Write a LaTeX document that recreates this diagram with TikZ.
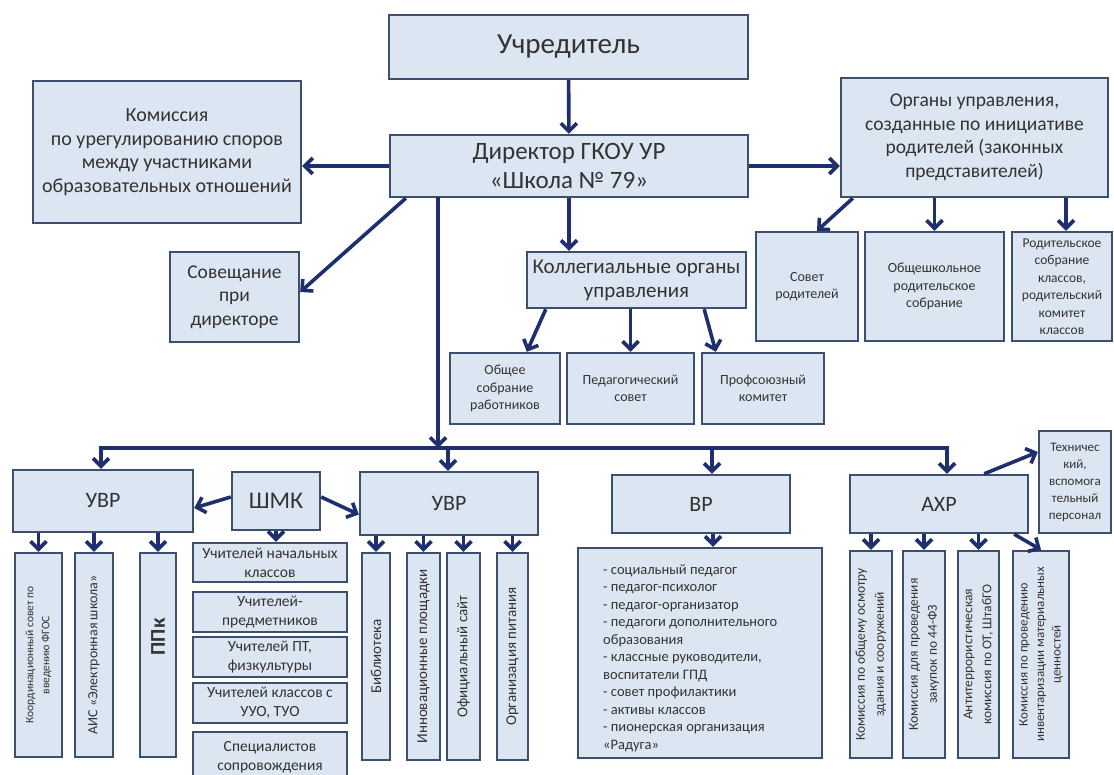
\documentclass[tikz,border=0pt]{standalone}
\usepackage{fontspec}
\setmainfont{Carlito}
\usetikzlibrary{arrows.meta}
\definecolor{bfill}{HTML}{DCE6F2}
\definecolor{bdraw}{HTML}{3D4F6E}
\definecolor{arrcol}{HTML}{1F2F6E}
\definecolor{txt}{HTML}{333333}
\tikzset{
  box/.style={draw=bdraw, fill=bfill, line width=2.4pt, inner sep=1pt, align=center, text=txt, font=\fontsize{14}{17.5}\selectfont},
  conn/.style={draw=arrcol, line width=3.6pt, -{Straight Barb[length=8pt,width=16pt]}},
  big/.style={font=\fontsize{22}{26}\selectfont},
  mid/.style={font=\fontsize{19.5}{23.5}\selectfont},
  shl/.style={font=\fontsize{15.5}{19}\selectfont},
  vt/.style={font=\fontsize{14}{17}\selectfont},
}
\newcommand{\bx}[7][]{%
  \pgfmathsetmacro\bxcx{(#3+#5)/2}%
  \pgfmathsetmacro\bxcy{(#4+#6)/2}%
  \pgfmathsetmacro\bxw{#5-#3}%
  \pgfmathsetmacro\bxh{#6-#4}%
  \node[box,minimum width=\bxw pt,minimum height=\bxh pt,#1] (#2) at (\bxcx,\bxcy) {#7};}
\newcommand{\vbx}[7][]{%
  \pgfmathsetmacro\bxcx{(#3+#5)/2}%
  \pgfmathsetmacro\bxcy{(#4+#6)/2}%
  \pgfmathsetmacro\bxw{#5-#3}%
  \pgfmathsetmacro\bxh{#6-#4}%
  \node[box,vt,rotate=90,minimum width=\bxh pt,minimum height=\bxw pt,#1] (#2) at (\bxcx,\bxcy) {#7};}
\begin{document}
\begin{tikzpicture}[x=1pt,y=-1pt]
\fill[white] (0,0) rectangle (1114,775);
\useasboundingbox (0,0) rectangle (1114,775);
% top
\bx[font=\fontsize{29}{32}\selectfont]{uch}{389}{15}{748}{79}{Учредитель}
\bx[font=\fontsize{25}{29}\selectfont]{dir}{390}{135}{748}{197}{Директор ГКОУ УР\\«Школа № 79»}
\bx[font=\fontsize{20}{23.5}\selectfont]{kom}{33}{81}{301}{223}{Комиссия\\по урегулированию споров\\между участниками\\образовательных отношений}
\bx[mid]{org}{841}{78}{1108}{197}{Органы управления,\\созданные по инициативе\\родителей (законных\\представителей)}
\bx[mid]{sov}{170}{252}{299}{342}{Совещание\\при\\директоре}
\bx[font=\fontsize{21}{24}\selectfont]{kol}{527}{252}{746}{308}{Коллегиальные органы\\управления}
\bx{obs}{450}{353}{560}{424}{Общее\\собрание\\работников}
\bx{ped}{567}{353}{694}{424}{Педагогический\\совет}
\bx{prof}{702}{353}{824}{424}{Профсоюзный\\комитет}
\bx{sr}{756}{232}{858}{341}{Совет\\родителей}
\bx{oshr}{865}{232}{1004}{341}{Общешкольное\\родительское\\собрание}
\bx[font=\fontsize{13.5}{17.5}\selectfont]{rsk}{1012}{232}{1112}{341}{Родительское\\собрание\\классов,\\родительский\\комитет\\классов}
% middle row
\bx[big]{uvr1}{13}{470}{193}{532}{УВР}
\bx[font=\fontsize{24}{28}\selectfont]{shmk}{232}{472}{320}{530}{ШМК}
\bx[big]{uvr2}{360}{472}{538}{535}{УВР}
\bx[big]{vr}{612}{475}{790}{533}{ВР}
\bx[big]{axr}{850}{475}{1028}{533}{АХР}
\bx[font=\fontsize{13}{17}\selectfont]{tex}{1039}{431}{1111}{533}{Техничес\\кий,\\вспомога\\тельный\\персонал}
% SHMK list
\bx[shl]{sh1}{193}{543}{347}{582}{Учителей начальных\\классов}
\bx[shl]{sh2}{193}{592}{347}{632}{Учителей-\\предметников}
\bx[shl]{sh3}{193}{637}{347}{677}{Учителей ПТ,\\физкультуры}
\bx[shl]{sh4}{193}{683}{347}{723}{Учителей классов с\\УУО, ТУО}
\bx[shl]{sh5}{193}{732}{347}{782}{Специалистов\\сопровождения}
% vertical boxes
\vbx[font=\fontsize{11.5}{16}\selectfont]{k1}{15}{553}{62}{757}{Координационный совет по\\введению ФГОС}
\vbx{k2}{75}{553}{113}{757}{АИС «Электронная школа»}
\vbx[font=\fontsize{21}{24}\selectfont\bfseries]{k3}{140}{553}{176}{757}{\hspace*{36pt}ППк}
\vbx[font=\fontsize{15}{18}\selectfont]{c1}{362}{553}{390}{760}{Библиотека}
\vbx[font=\fontsize{15}{18}\selectfont]{c2}{407}{553}{440}{760}{Инновационные площадки}
\vbx[font=\fontsize{15}{18}\selectfont]{c3}{447}{553}{480}{760}{Официальный сайт}
\vbx[font=\fontsize{15}{18}\selectfont]{c4}{497}{553}{528}{760}{Организация питания}
\bx{vrl}{578}{548}{822}{758}{}
\node[anchor=west, align=left, text=txt, font=\fontsize{14.5}{17.5}\selectfont, inner sep=0pt] (vrt) at (603,658) {- социальный педагог\\- педагог-психолог\\- педагог-организатор\\- педагоги дополнительного\\образования\\- классные руководители,\\воспитатели ГПД\\- совет профилактики\\- активы классов\\- пионерская организация\\«Радуга»};
\vbx[font=\fontsize{13.5}{19}\selectfont]{a1}{850}{551}{892}{758}{Комиссия по общему осмотру\\здания и сооружений}
\vbx[font=\fontsize{13.5}{19}\selectfont]{a2}{903}{551}{945}{758}{Комиссия для проведения\\закупок по 44-ФЗ}
\vbx[font=\fontsize{13.5}{19}\selectfont]{a3}{958}{551}{999}{758}{Антитеррористическая\\комиссия по ОТ, ШтабГО}
\vbx[font=\fontsize{13}{16.5}\selectfont]{a4}{1013}{551}{1069}{758}{Комиссия по проведению\\инвентаризации материальных\\ценностей}
% connectors top
\draw[conn] (uch) -- (dir);
\draw[conn] (dir.west) -- (kom.east |- dir.west);
\draw[conn] (dir.east) -- (org.west |- dir.east);
\draw[conn] ([xshift=17pt]dir.south west) -- ([yshift=5pt]sov.east);
\draw[conn] (dir.south) -- (dir.south |- kol.north);
\draw[conn] ([xshift=20pt]kol.south west) -- ([xshift=78pt]obs.north west);
\draw[conn] (ped.north |- kol.south) -- (ped.north);
\draw[conn] ([xshift=-43pt]kol.south east) -- ([xshift=15pt]prof.north west);
\draw[conn] ([xshift=13pt]org.south west) -- ([xshift=10pt]sr.north);
\draw[conn] (oshr.north |- org.south) -- (oshr.north);
\draw[conn] ([xshift=4pt]rsk.north |- org.south) -- ([xshift=4pt]rsk.north);
% bus
\coordinate (dv) at (438,197);
\coordinate (b1) at (101,448);
\coordinate (b2) at (448,448);
\coordinate (b3) at (712,448);
\coordinate (b4) at (947,448);
\draw[conn] (dv) -- (dv |- b1);
\draw[conn] (b3) -- (b1) -- (b1 |- uvr1.north);
\draw[conn] (b3) -- (b4) -- (b4 |- axr.north);
\draw[conn] (b2) -- (b2 |- uvr2.north);
\draw[conn] (b3) -- (b3 |- vr.north);
% SHMK
\draw[conn] ([yshift=4pt]shmk.west) -- ([yshift=-7pt]uvr1.east);
\draw[conn] ([yshift=4pt]shmk.east) -- ([yshift=-11pt]uvr2.west);
\draw[conn] (shmk.south) -- (shmk.south |- sh1.north);
% children
\foreach \c in {k1,k2,k3} \draw[conn] (\c.east |- uvr1.south) -- (\c.east);
\foreach \c in {c1,c2,c3,c4} \draw[conn] (\c.east |- uvr2.south) -- (\c.east);
\draw[conn] ([xshift=12pt]vr.south) -- ([xshift=12pt]vr.south |- vrl.north);
\foreach \c in {a1,a2,a3} \draw[conn] (\c.east |- axr.south) -- (\c.east);
\draw[conn] ([xshift=-15pt]axr.south east) -- (a4.east);
\draw[conn] ([xshift=-45pt]axr.north east) -- ([yshift=30pt]tex.west);
\end{tikzpicture}
\end{document}
